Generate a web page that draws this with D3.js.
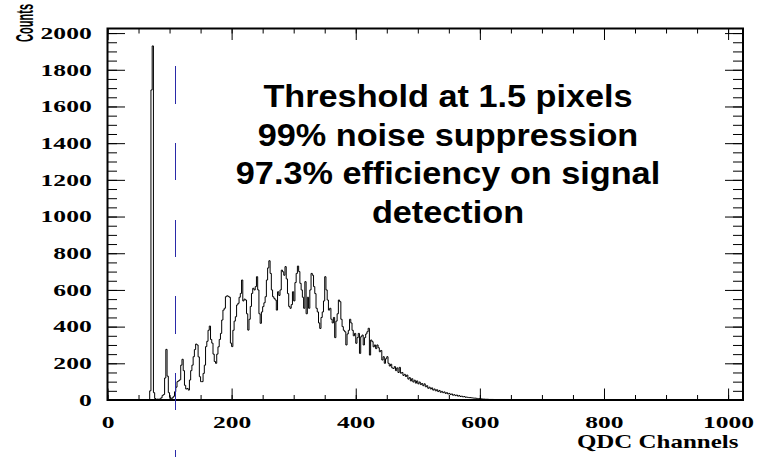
<!DOCTYPE html>
<html>
<head>
<meta charset="utf-8">
<script src="https://cdn.jsdelivr.net/npm/d3@7"></script>
<style>
body { margin: 0; background: #fff; }
svg { display: block; }
</style>
</head>
<body>
<svg id="vis"></svg>
<script>
// QDC spectrum, 2 channel bins starting at channel 60
var binStart = 60;
var binWidth = 2;
var counts = [
    0, 0, 0, 2, 50, 1690, 1930, 40, 8, 3,
    5, 4, 6, 12, 25, 30, 120, 276, 130, 40,
    15, 5, 12, 20, 45, 70, 100, 105, 110, 190,
    222, 160, 80, 60, 63, 54, 109, 160, 190, 236,
    275, 305, 300, 235, 127, 100, 100, 145, 190, 291,
    320, 380, 403, 330, 310, 250, 210, 200, 250, 290,
    330, 363, 436, 490, 500, 563, 568, 565, 560, 310,
    291, 380, 430, 454, 518, 527, 560, 581, 654, 540,
    550, 545, 470, 381, 440, 510, 581, 609, 600, 618,
    672, 600, 470, 418, 480, 509, 530, 563, 654, 720,
    759, 690, 600, 563, 554, 545, 490, 590, 570, 600,
    708, 699, 680, 727, 660, 580, 510, 500, 520, 590,
    540, 640, 690, 730, 700, 636, 600, 560, 500, 645,
    470, 560, 500, 600, 690, 680, 618, 580, 500, 480,
    420, 390, 450, 480, 540, 672, 600, 545, 490, 500,
    440, 420, 450, 340, 430, 470, 545, 536, 440, 400,
    380, 372, 300, 360, 380, 440, 420, 380, 350, 363,
    309, 340, 363, 254, 345, 354, 300, 340, 360, 372,
    391, 245, 327, 318, 290, 300, 280, 300, 285, 263,
    270, 218, 236, 200, 225, 236, 200, 185, 195, 175,
    172, 182, 160, 175, 150, 178, 146, 150, 134, 140,
    128, 136, 114, 122, 104, 116, 98, 108, 92, 104,
    88, 98, 84, 90, 78, 88, 72, 78, 64, 70,
    60, 66, 54, 60, 50, 56, 46, 52, 42, 47,
    40, 44, 36, 40, 33, 36, 30, 33, 26, 29,
    24, 27, 21, 24, 19, 21, 17, 19, 15, 16,
    14, 13, 13, 12, 11, 10, 10, 9, 8, 8,
    7, 6, 5, 5, 4, 4, 4, 3, 3, 3,
    3, 2, 2, 2, 2, 2, 1, 1, 1, 1,
    1, 1, 1, 0, 0, 0, 0, 0, 0, 0
];

var xTicks = [0, 200, 400, 600, 800, 1000];
var yTicks = [0, 200, 400, 600, 800, 1000, 1200, 1400, 1600, 1800, 2000];
var xMax = 1024;
var yMax = 2025;

var threshold = 110;      // channel of the dashed cut
var thresholdTop = 1820;  // counts where the dashed line starts

var noteLines = ["Threshold at 1.5 pixels", "99% noise suppression", "97.3% efficiency on signal", "detection"];
var xTitle = "QDC Channels";
var yTitle = "Counts";

const WIDTH = 758;
const HEIGHT = 457;
const LEFT = 107.5;
const RIGHT = 743;
const TOP = 28.5;
const BOTTOM = 400;
const SERIF = "'Liberation Serif', 'Times New Roman', serif";
const SANS = "'Liberation Sans', Arial, Helvetica, sans-serif";

window.onload = function() {
    drawChart();
};

// stretch a text element sideways, the old ROOT fonts come out wide
function stretch(sel, factor) {
    sel.each(function() {
        var w = this.getComputedTextLength();
        d3.select(this)
            .attr("textLength", w * factor)
            .attr("lengthAdjust", "spacingAndGlyphs");
    });
}

function drawChart() {
    var svg = d3.select("#vis")
        .attr("width", WIDTH)
        .attr("height", HEIGHT);

    svg.append("rect")
        .attr("width", WIDTH)
        .attr("height", HEIGHT)
        .attr("fill", "#fff");

    var xScale = d3.scaleLinear().domain([0, xMax]).range([LEFT, RIGHT]);
    var yScale = d3.scaleLinear().domain([0, yMax]).range([BOTTOM, TOP]);

    // histogram as a step line
    var points = counts.map(function(c, i) {
        return [binStart + i * binWidth, c];
    });
    points.push([binStart + counts.length * binWidth, counts[counts.length - 1]]);

    var line = d3.line()
        .x(function(d) { return xScale(d[0]); })
        .y(function(d) { return yScale(d[1]); })
        .curve(d3.curveStepAfter);

    svg.append("path")
        .attr("d", line(points))
        .attr("fill", "none")
        .attr("stroke", "#000")
        .attr("stroke-width", 1);

    // minor ticks every 50 on all four sides
    var xMinor = d3.range(0, 1001, 50);
    var yMinor = d3.range(0, 2001, 50);

    var axes = [
        { ax: d3.axisBottom(xScale).tickValues(xMinor).tickSize(-5), t: "translate(0," + BOTTOM + ")" },
        { ax: d3.axisTop(xScale).tickValues(xMinor).tickSize(-5), t: "translate(0," + TOP + ")" },
        { ax: d3.axisTop(xScale).tickValues(xTicks).tickSize(-11.5), t: "translate(0," + TOP + ")" },
        { ax: d3.axisLeft(yScale).tickValues(yMinor).tickSize(-9.5), t: "translate(" + LEFT + ",0)" },
        { ax: d3.axisRight(yScale).tickValues(yMinor).tickSize(-10), t: "translate(" + RIGHT + ",0)" },
        { ax: d3.axisRight(yScale).tickValues(yTicks).tickSize(-18), t: "translate(" + RIGHT + ",0)" }
    ];
    axes.forEach(function(a) {
        var g = svg.append("g").attr("transform", a.t).call(a.ax.tickFormat(""));
        g.select(".domain").remove();
        g.selectAll("line").attr("stroke", "#000");
    });

    // labelled major ticks
    var gx = svg.append("g")
        .attr("transform", "translate(0," + BOTTOM + ")")
        .call(d3.axisBottom(xScale).tickValues(xTicks).tickSize(-11.5).tickPadding(15.5).tickFormat(d3.format("d")));
    gx.select(".domain").remove();
    gx.selectAll("line").attr("stroke", "#000");
    gx.selectAll("text")
        .attr("font-family", SERIF)
        .attr("font-weight", "bold")
        .attr("font-size", 17)
        .attr("fill", "#000")
        .call(stretch, 1.5);

    var gy = svg.append("g")
        .attr("transform", "translate(" + LEFT + ",0)")
        .call(d3.axisLeft(yScale).tickValues(yTicks).tickSize(-17.5).tickPadding(15.8).tickFormat(d3.format("d")));
    gy.select(".domain").remove();
    gy.selectAll("line").attr("stroke", "#000");
    gy.selectAll("text")
        .attr("font-family", SERIF)
        .attr("font-weight", "bold")
        .attr("font-size", 16.5)
        .attr("fill", "#000")
        .call(stretch, 1.55);

    // frame
    svg.append("rect")
        .attr("x", LEFT)
        .attr("y", TOP)
        .attr("width", RIGHT - LEFT)
        .attr("height", BOTTOM - TOP)
        .attr("fill", "none")
        .attr("stroke", "#000")
        .attr("stroke-width", 2);

    // dashed threshold line, runs past the axis
    svg.append("line")
        .attr("x1", xScale(threshold))
        .attr("x2", xScale(threshold))
        .attr("y1", yScale(thresholdTop))
        .attr("y2", HEIGHT)
        .attr("stroke", "#2a2aa8")
        .attr("stroke-width", 1)
        .attr("stroke-dasharray", "37.5,39.2")
        .style("shape-rendering", "crispEdges");

    // axis titles
    svg.append("text")
        .text(xTitle)
        .attr("x", 738.5)
        .attr("y", 447.5)
        .attr("text-anchor", "end")
        .attr("font-family", SERIF)
        .attr("font-weight", "bold")
        .attr("font-size", 19.5)
        .attr("fill", "#000")
        .call(stretch, 1.28);

    // rotated title, squeezed along its length with a scale
    svg.append("text")
        .text(yTitle)
        .attr("transform", "translate(33,42) rotate(-90) scale(0.47,1)")
        .attr("text-anchor", "start")
        .attr("font-family", SANS)
        .attr("font-weight", "bold")
        .attr("font-size", 23.5)
        .attr("fill", "#000");

    // note text
    svg.selectAll(".note")
        .data(noteLines)
        .enter()
        .append("text")
        .attr("class", "note")
        .text(function(d) { return d; })
        .attr("x", 448)
        .attr("y", function(d, i) { return 107.3 + i * 38.5; })
        .attr("text-anchor", "middle")
        .attr("font-family", SANS)
        .attr("font-weight", "bold")
        .attr("font-size", 32)
        .attr("fill", "#000")
        .call(stretch, 1.07);
}
</script>
</body>
</html>
